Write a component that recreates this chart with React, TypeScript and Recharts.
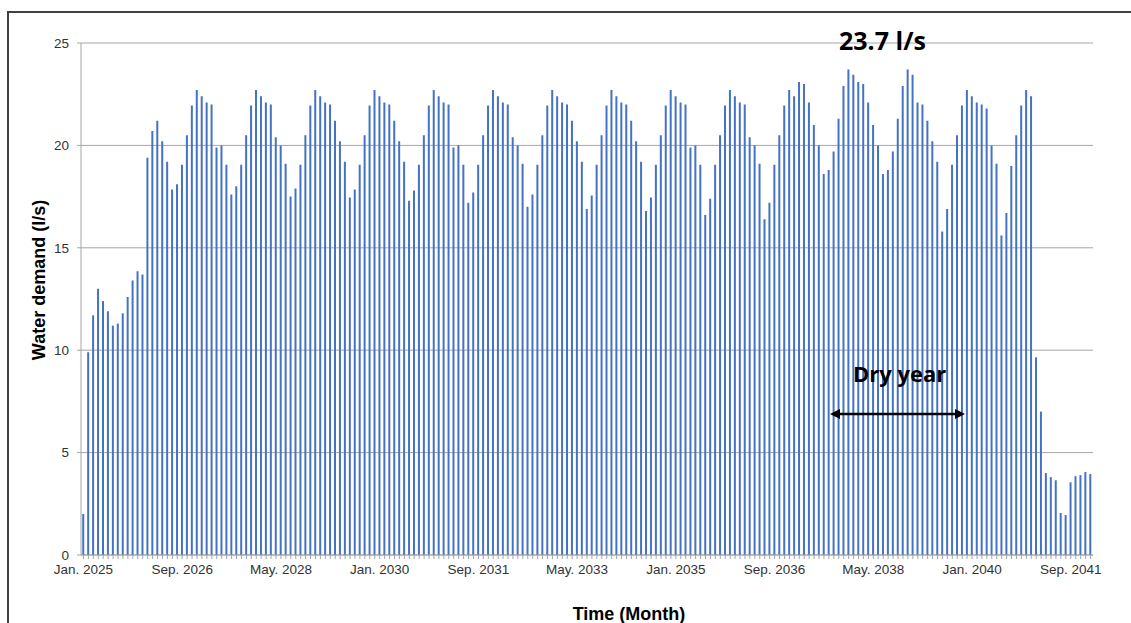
import { Bar, BarChart, CartesianGrid, XAxis, YAxis } from "recharts"

const monthNames = ["Jan.", "Feb.", "Mar.", "Apr.", "May.", "Jun.", "Jul.", "Aug.", "Sep.", "Oct.", "Nov.", "Dec."]

// monthly water demand (l/s), one array per year
const y2025 = [2.0, 9.9, 11.7, 13.0, 12.4, 11.9, 11.2, 11.3, 11.8, 12.6, 13.4, 13.85]
const y2026 = [13.7, 19.4, 20.7, 21.2, 20.2, 19.2, 17.85, 18.1, 19.05, 20.5, 21.95, 22.7]
const y2027 = [22.4, 22.1, 22.0, 19.9, 20.0, 19.05, 17.6, 18.0, 19.05, 20.5, 21.95, 22.7]
const y2028 = [22.4, 22.1, 22.0, 20.4, 20.0, 19.1, 17.5, 17.9, 19.05, 20.5, 21.95, 22.7]
const y2029 = [22.4, 22.1, 22.0, 21.2, 20.2, 19.2, 17.45, 17.85, 19.05, 20.5, 21.95, 22.7]
const y2030 = [22.4, 22.1, 22.0, 21.2, 20.2, 19.2, 17.3, 17.8, 19.05, 20.5, 21.95, 22.7]
const y2031 = [22.4, 22.1, 22.0, 19.9, 20.0, 19.05, 17.2, 17.7, 19.05, 20.5, 21.95, 22.7]
const y2032 = [22.4, 22.1, 22.0, 20.4, 20.0, 19.1, 17.0, 17.6, 19.05, 20.5, 21.95, 22.7]
const y2033 = [22.4, 22.1, 22.0, 21.2, 20.2, 19.2, 16.9, 17.55, 19.05, 20.5, 21.95, 22.7]
const y2034 = [22.4, 22.1, 22.0, 21.2, 20.2, 19.2, 16.8, 17.45, 19.05, 20.5, 21.95, 22.7]
const y2035 = [22.4, 22.1, 22.0, 19.9, 20.0, 19.05, 16.6, 17.4, 19.05, 20.5, 21.95, 22.7]
const y2036 = [22.4, 22.1, 22.0, 20.4, 20.0, 19.1, 16.4, 17.2, 19.05, 20.5, 21.95, 22.7]
const y2037 = [22.4, 23.1, 23.0, 22.1, 21.0, 20.0, 18.6, 18.8, 19.7, 21.3, 22.9, 23.7]
const y2038 = [23.45, 23.1, 23.0, 22.1, 21.0, 20.0, 18.6, 18.8, 19.7, 21.3, 22.9, 23.7]
const y2039 = [23.45, 22.1, 22.0, 21.2, 20.2, 19.2, 15.8, 16.9, 19.05, 20.5, 21.95, 22.7]
const y2040 = [22.4, 22.1, 22.0, 21.8, 20.0, 19.1, 15.6, 16.7, 19.0, 20.5, 21.95, 22.7]
const y2041 = [22.4, 9.65, 7.0, 4.0, 3.8, 3.65, 2.05, 1.95, 3.55, 3.85, 3.9, 4.05]
const y2042 = [3.95]

const years = [
  { year: 2025, values: y2025 },
  { year: 2026, values: y2026 },
  { year: 2027, values: y2027 },
  { year: 2028, values: y2028 },
  { year: 2029, values: y2029 },
  { year: 2030, values: y2030 },
  { year: 2031, values: y2031 },
  { year: 2032, values: y2032 },
  { year: 2033, values: y2033 },
  { year: 2034, values: y2034 },
  { year: 2035, values: y2035 },
  { year: 2036, values: y2036 },
  { year: 2037, values: y2037 },
  { year: 2038, values: y2038 },
  { year: 2039, values: y2039 },
  { year: 2040, values: y2040 },
  { year: 2041, values: y2041 },
  { year: 2042, values: y2042 },
]

const yTicks = [0, 5, 10, 15, 20, 25]
const labelEvery = 20

const data = years.flatMap(({ year, values }) =>
  values.map((demand, m) => ({ month: `${monthNames[m]} ${year}`, demand }))
)

const axisGray = "#a6a6a6"
const tickFont = { fontFamily: "Liberation Sans, Arial, sans-serif", fontSize: 13.5, fill: "#333" }

export default function App() {
  return (
    <div style={{ position: "fixed", left: 0, top: 0, width: 1131, height: 623, overflow: "hidden", background: "#fff" }}>
      <BarChart width={1131} height={623} data={data} margin={{ top: 43, right: 38, bottom: 38, left: 31 }} barCategoryGap="25%">
        <CartesianGrid yAxisId="left" vertical={false} stroke={axisGray} />
        <XAxis
          dataKey="month"
          interval={0}
          height={30}
          tickSize={4}
          tickMargin={5}
          stroke={axisGray}
          tick={tickFont}
          tickFormatter={(v, i) => (i % labelEvery === 0 ? v : "")}
        />
        <YAxis
          yAxisId="left"
          width={50}
          domain={[0, 25]}
          ticks={yTicks}
          tickSize={4}
          tickMargin={8}
          stroke={axisGray}
          tick={tickFont}
        />
        <YAxis yAxisId="right" orientation="right" width={0} domain={[0, 25]} tick={false} tickLine={false} axisLine={{ stroke: "#c8c8c8", strokeWidth: 2 }} />
        <Bar yAxisId="left" dataKey="demand" fill="#4472C4" isAnimationActive={false} />
      </BarChart>
      <svg width={1131} height={623} style={{ position: "absolute", left: 0, top: 0, pointerEvents: "none" }}>
        <polyline points="8,623 8,12 1131,12" fill="none" stroke="#404040" strokeWidth={2} />
        <text
          x={39}
          y={280}
          transform="rotate(-90 39 280)"
          textAnchor="middle"
          dominantBaseline="central"
          style={{ fontFamily: "Liberation Sans, Arial, sans-serif", fontSize: 18, fontWeight: 700 }}
        >
          Water demand (l/s)
        </text>
        <text x={629} y={620} textAnchor="middle" style={{ fontFamily: "Liberation Sans, Arial, sans-serif", fontSize: 18, fontWeight: 700 }}>
          Time (Month)
        </text>
        <text x={839} y={50} style={{ fontFamily: "Open Sans, sans-serif", fontSize: 25, fontWeight: 700 }}>
          23.7 l/s
        </text>
        <text x={853} y={382} style={{ fontFamily: "Open Sans, sans-serif", fontSize: 22, fontWeight: 700 }}>
          Dry year
        </text>
        <line x1={836} y1={414} x2={959} y2={414} stroke="#000" strokeWidth={2.5} />
        <polygon points="830,414 840,409 840,419" fill="#000" />
        <polygon points="965,414 955,409 955,419" fill="#000" />
      </svg>
    </div>
  )
}
